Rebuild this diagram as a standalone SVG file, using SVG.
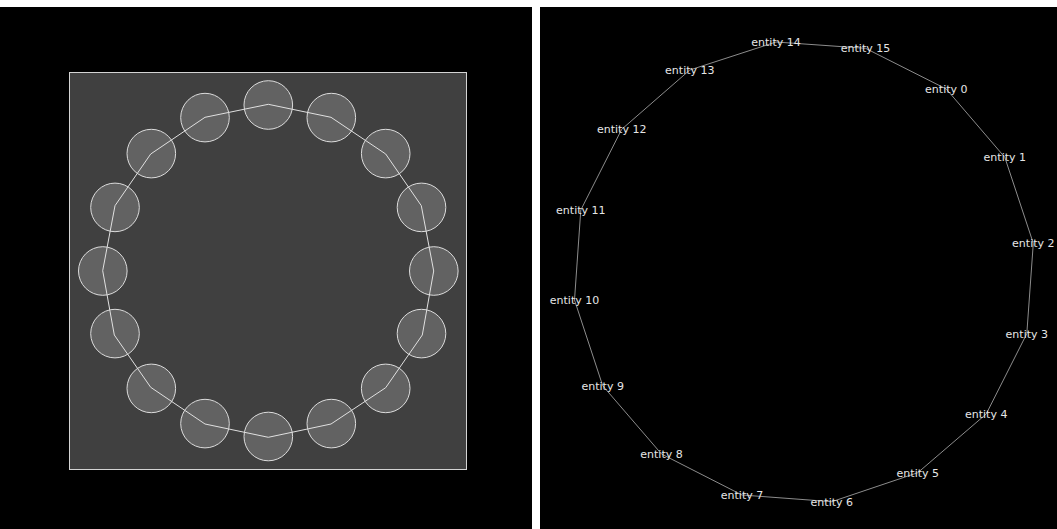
<svg xmlns="http://www.w3.org/2000/svg" width="1057" height="529" viewBox="0 0 1057 529">
  <style>
    .panel { fill: #000000; }
    .frame { fill: #404040; stroke: #d4d4d4; stroke-width: 1; }
    .node { fill: #ffffff; fill-opacity: 0.18; stroke: #dcdcdc; stroke-width: 1; }
    .ring { fill: none; stroke: #e0e0e0; stroke-width: 1; stroke-linejoin: round; }
    .edge { fill: none; stroke: #8c8c8c; stroke-width: 1; }
    .label { font-family: "DejaVu Sans", "Liberation Sans", sans-serif; font-size: 11px; fill: #e6e6e6; text-anchor: middle; }
  </style>
  <rect x="0" y="0" width="1057" height="529" fill="#ffffff"/>

  <!-- left view: circular layout of 16 nodes inside a framed area -->
  <rect class="panel" x="0" y="7" width="532" height="522"/>
  <rect class="frame" x="69.5" y="72.5" width="397" height="397"/>
  <g id="left-nodes">
    <circle id="c0" class="node" cx="268.3" cy="105" r="24.3"/>
    <circle id="c1" class="node" cx="331.3" cy="117.6" r="24.3"/>
    <circle id="c2" class="node" cx="385.7" cy="153.6" r="24.3"/>
    <circle id="c3" class="node" cx="421.5" cy="207.4" r="24.3"/>
    <circle id="c4" class="node" cx="433.8" cy="271" r="24.3"/>
    <circle id="c5" class="node" cx="421.5" cy="333.6" r="24.3"/>
    <circle id="c6" class="node" cx="385.7" cy="388.4" r="24.3"/>
    <circle id="c7" class="node" cx="331.3" cy="423.6" r="24.3"/>
    <circle id="c8" class="node" cx="268.3" cy="436.5" r="24.3"/>
    <circle id="c9" class="node" cx="205" cy="423.6" r="24.3"/>
    <circle id="c10" class="node" cx="151.3" cy="388.4" r="24.3"/>
    <circle id="c11" class="node" cx="115" cy="333.6" r="24.3"/>
    <circle id="c12" class="node" cx="102.8" cy="271" r="24.3"/>
    <circle id="c13" class="node" cx="115" cy="207.4" r="24.3"/>
    <circle id="c14" class="node" cx="151.3" cy="153.6" r="24.3"/>
    <circle id="c15" class="node" cx="205" cy="117.6" r="24.3"/>
  </g>
  <g id="left-connectors">
    <polygon class="ring" points="268.3,104.3 331,117.3 385.7,154 421.3,205.7 433.7,271 422.3,335 385.7,387.7 331,424 268.3,437.3 205,424 150.7,387.3 114.3,335 102.7,270.7 115,205.7 150.7,154 205,117.3"/>
  </g>

  <!-- right view: the same ring drawn as labelled entities -->
  <rect class="panel" x="540" y="7" width="517" height="522"/>
  <g id="right-connectors">
    <polygon class="edge" points="946.3,89 1004.8,157.3 1033.3,243.3 1026.8,333.7 986.2,414 917.8,472.7 831.8,501.7 742,495 661.5,454 602.7,385.7 574.5,300 580.8,210 621.7,129.3 689.8,70 776,42 865.5,48.3"/>
  </g>
  <g id="entity-0"><text class="label" x="946.3" y="93">entity 0</text></g>
  <g id="entity-1"><text class="label" x="1004.8" y="161.3">entity 1</text></g>
  <g id="entity-2"><text class="label" x="1033.3" y="247.3">entity 2</text></g>
  <g id="entity-3"><text class="label" x="1026.8" y="337.7">entity 3</text></g>
  <g id="entity-4"><text class="label" x="986.2" y="418">entity 4</text></g>
  <g id="entity-5"><text class="label" x="917.8" y="476.7">entity 5</text></g>
  <g id="entity-6"><text class="label" x="831.8" y="505.7">entity 6</text></g>
  <g id="entity-7"><text class="label" x="742" y="499">entity 7</text></g>
  <g id="entity-8"><text class="label" x="661.5" y="458">entity 8</text></g>
  <g id="entity-9"><text class="label" x="602.7" y="389.7">entity 9</text></g>
  <g id="entity-10"><text class="label" x="574.5" y="304">entity 10</text></g>
  <g id="entity-11"><text class="label" x="580.8" y="214">entity 11</text></g>
  <g id="entity-12"><text class="label" x="621.7" y="133.3">entity 12</text></g>
  <g id="entity-13"><text class="label" x="689.8" y="74">entity 13</text></g>
  <g id="entity-14"><text class="label" x="776" y="46">entity 14</text></g>
  <g id="entity-15"><text class="label" x="865.5" y="52.3">entity 15</text></g>
</svg>
